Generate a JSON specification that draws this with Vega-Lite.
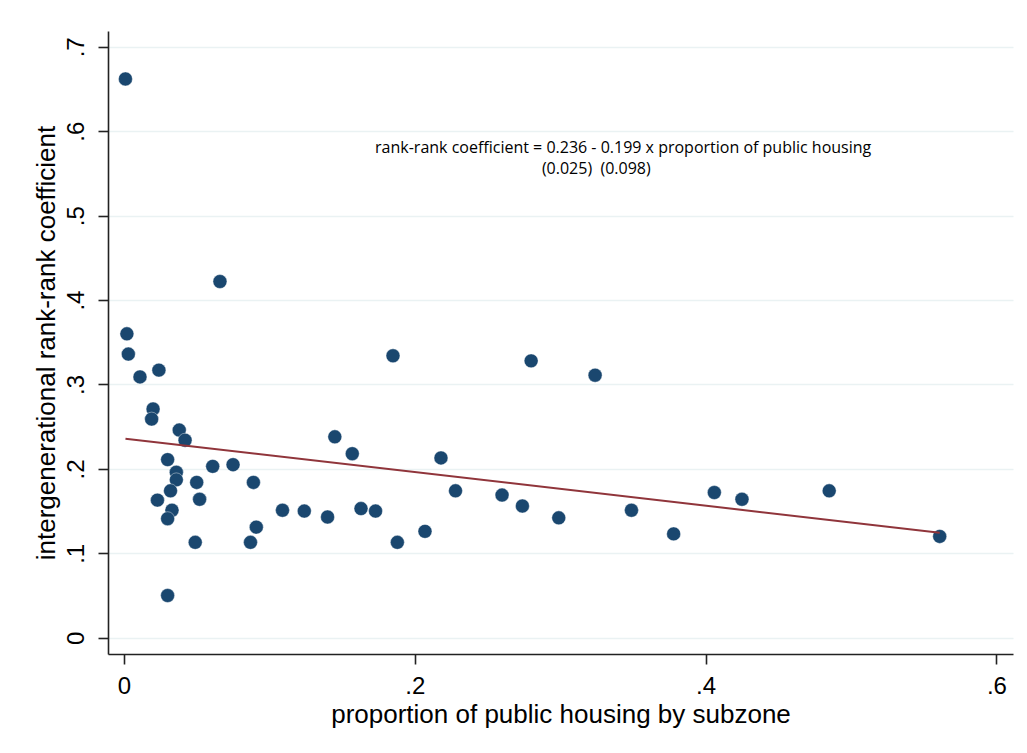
{
  "$schema": "https://vega.github.io/schema/vega-lite/v6.json",
  "autosize": "none",
  "width": 905,
  "height": 623,
  "padding": {"left": 108, "top": 31, "right": 14, "bottom": 99},
  "background": "white",
  "config": {
    "view": {"stroke": null},
    "axis": {
      "labelFont": "Liberation Sans",
      "titleFont": "Liberation Sans",
      "labelColor": "#000000",
      "titleColor": "#000000",
      "titleFontWeight": "normal",
      "domainColor": "#222222",
      "domainWidth": 1.6,
      "tickColor": "#222222",
      "tickWidth": 1.6,
      "tickSize": 10
    }
  },
  "datasets": {
    "pts": [
      {"pub": 0.001, "rr": 0.662},
      {"pub": 0.066, "rr": 0.422},
      {"pub": 0.002, "rr": 0.360},
      {"pub": 0.003, "rr": 0.336},
      {"pub": 0.011, "rr": 0.309},
      {"pub": 0.024, "rr": 0.317},
      {"pub": 0.020, "rr": 0.271},
      {"pub": 0.019, "rr": 0.259},
      {"pub": 0.038, "rr": 0.246},
      {"pub": 0.042, "rr": 0.234},
      {"pub": 0.030, "rr": 0.211},
      {"pub": 0.036, "rr": 0.196},
      {"pub": 0.036, "rr": 0.187},
      {"pub": 0.032, "rr": 0.174},
      {"pub": 0.023, "rr": 0.163},
      {"pub": 0.033, "rr": 0.151},
      {"pub": 0.030, "rr": 0.141},
      {"pub": 0.030, "rr": 0.050},
      {"pub": 0.050, "rr": 0.184},
      {"pub": 0.052, "rr": 0.164},
      {"pub": 0.049, "rr": 0.113},
      {"pub": 0.061, "rr": 0.203},
      {"pub": 0.075, "rr": 0.205},
      {"pub": 0.089, "rr": 0.184},
      {"pub": 0.087, "rr": 0.113},
      {"pub": 0.091, "rr": 0.131},
      {"pub": 0.109, "rr": 0.151},
      {"pub": 0.124, "rr": 0.150},
      {"pub": 0.140, "rr": 0.143},
      {"pub": 0.145, "rr": 0.238},
      {"pub": 0.157, "rr": 0.218},
      {"pub": 0.163, "rr": 0.153},
      {"pub": 0.173, "rr": 0.150},
      {"pub": 0.185, "rr": 0.334},
      {"pub": 0.188, "rr": 0.113},
      {"pub": 0.207, "rr": 0.126},
      {"pub": 0.218, "rr": 0.213},
      {"pub": 0.228, "rr": 0.174},
      {"pub": 0.260, "rr": 0.169},
      {"pub": 0.280, "rr": 0.328},
      {"pub": 0.274, "rr": 0.156},
      {"pub": 0.299, "rr": 0.142},
      {"pub": 0.324, "rr": 0.311},
      {"pub": 0.349, "rr": 0.151},
      {"pub": 0.378, "rr": 0.123},
      {"pub": 0.406, "rr": 0.172},
      {"pub": 0.425, "rr": 0.164},
      {"pub": 0.485, "rr": 0.174},
      {"pub": 0.561, "rr": 0.120}
    ],
    "fit": [
      {"pub": 0.001, "rr": 0.2358},
      {"pub": 0.561, "rr": 0.1244}
    ],
    "notes": [
      {"pub": 0.3433, "rr": 0.580, "txt": "rank-rank coefficient = 0.236 - 0.199 x proportion of public housing"},
      {"pub": 0.3248, "rr": 0.555, "txt": "(0.025)\u00a0\u00a0(0.098)"}
    ]
  },
  "layer": [
    {
      "data": {"name": "pts"},
      "mark": {"type": "circle", "size": 195, "color": "#1a476f", "opacity": 1, "stroke": "#ffffff", "strokeWidth": 0.4},
      "encoding": {
        "x": {
          "field": "pub", "type": "quantitative",
          "scale": {"domain": [-0.011, 0.6114], "nice": false, "zero": false},
          "axis": {
            "values": [0, 0.2, 0.4, 0.6],
            "labelExpr": "datum.value == 0 ? '0' : substring(format(datum.value, '.1f'), 1)",
            "grid": false,
            "labelFontSize": 24,
            "labelPadding": 10,
            "title": "proportion of public housing by subzone",
            "titleFontSize": 26,
            "titlePadding": 3
          }
        },
        "y": {
          "field": "rr", "type": "quantitative",
          "scale": {"domain": [-0.0193, 0.7188], "nice": false, "zero": false},
          "axis": {
            "values": [0, 0.1, 0.2, 0.3, 0.4, 0.5, 0.6, 0.7],
            "labelExpr": "datum.value == 0 ? '0' : substring(format(datum.value, '.1f'), 1)",
            "grid": true,
            "gridColor": "#eaf2f3",
            "gridWidth": 1.6,
            "labelAngle": 270,
            "labelAlign": "center",
            "labelBaseline": "bottom",
            "labelFontSize": 24,
            "labelPadding": 10,
            "title": "intergenerational rank-rank coefficient",
            "titleFontSize": 26,
            "titlePadding": 5
          }
        }
      }
    },
    {
      "data": {"name": "fit"},
      "mark": {"type": "line", "color": "#90353b", "strokeWidth": 2},
      "encoding": {
        "x": {"field": "pub", "type": "quantitative"},
        "y": {"field": "rr", "type": "quantitative"}
      }
    },
    {
      "data": {"name": "notes"},
      "mark": {"type": "text", "font": "Open Sans", "fontSize": 16, "color": "#000000", "align": "center", "baseline": "middle"},
      "encoding": {
        "x": {"field": "pub", "type": "quantitative"},
        "y": {"field": "rr", "type": "quantitative"},
        "text": {"field": "txt"}
      }
    }
  ]
}
